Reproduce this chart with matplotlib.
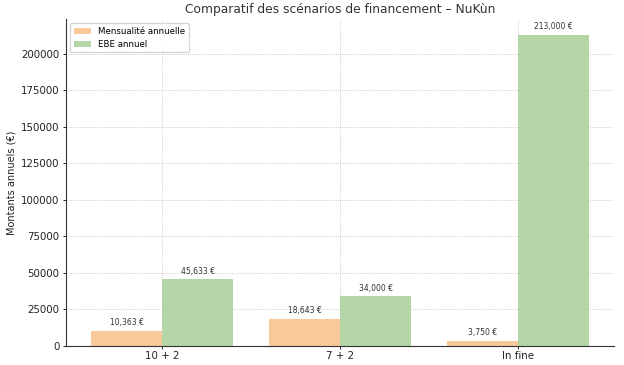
import matplotlib
matplotlib.use("Agg")
import matplotlib.pyplot as plt
import numpy as np

categories = ["10 + 2", "7 + 2", "In fine"]
mensualite = [10363, 18643, 3750]
ebe = [45633, 34000, 213000]

fig, ax = plt.subplots(figsize=(6.24, 3.65), dpi=100)
x = np.arange(len(categories))
w = 0.4
b1 = ax.bar(x - w/2, mensualite, w, color="#f9c999", label="Mensualité annuelle", zorder=2)
b2 = ax.bar(x + w/2, ebe, w, color="#b4d6a6", label="EBE annuel", zorder=2)

for bars, vals in ((b1, mensualite), (b2, ebe)):
    for r, v in zip(bars, vals):
        ax.annotate(f"{v:,} €", (r.get_x() + r.get_width()/2, v), xytext=(0, 2.5),
                    textcoords="offset points", ha="center", va="bottom",
                    fontsize=5.5, color="#333333")

ax.set_xticks(x)
ax.set_xticklabels(categories)
ax.tick_params(axis="both", labelsize=7.4, length=2.5, width=0.6, pad=2.2, labelcolor="#222222")
ax.tick_params(axis="x", pad=1.2)
ax.set_ylabel("Montants annuels (€)", fontsize=7.0, color="#222222", labelpad=3)
ax.set_title("Comparatif des scénarios de financement – NuKùn", fontsize=8.8, color="#333333", pad=4.5)
ax.grid(True, linestyle=":", color="#bbbbbb", linewidth=0.6, zorder=0)
ax.set_axisbelow(True)
ax.spines["top"].set_visible(False)
ax.spines["right"].set_visible(False)
for s in ("left", "bottom"):
    ax.spines[s].set_linewidth(0.8)
    ax.spines[s].set_color("#333333")
ax.legend(loc="upper left", fontsize=6.2, frameon=True)
fig.subplots_adjust(left=0.106, right=0.984, top=0.948, bottom=0.052)
fig.savefig("out.png", dpi=100)
